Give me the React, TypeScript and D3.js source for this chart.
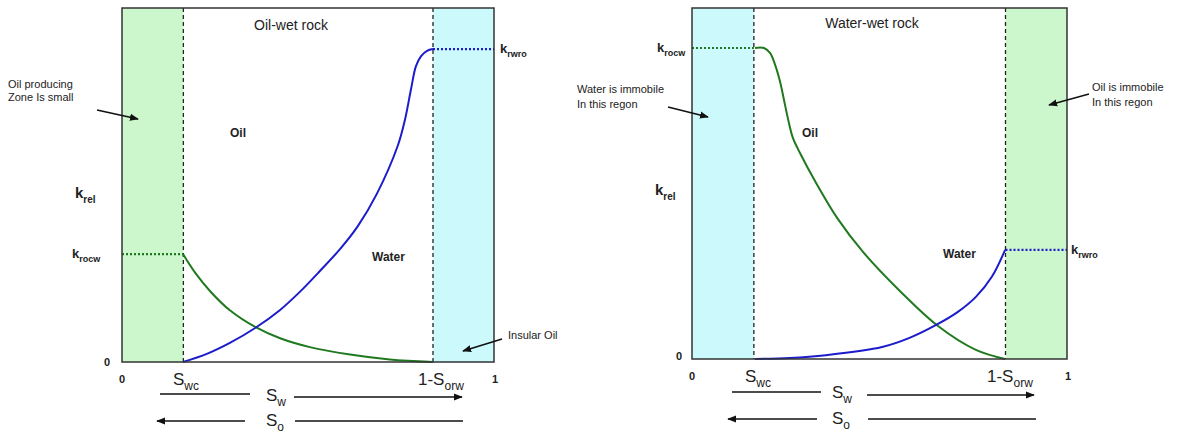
import { useEffect, useRef } from 'react'
import * as d3 from 'd3'

// saturation end points (fraction of pore volume)
const SWC = 0.165
const ONE_MINUS_SORW = 0.836

// oil-wet rock: [Sw, kr]
const OILWET_WATER: [number, number][] = [
  [0.164, 0], [0.228, 0.023], [0.29, 0.054], [0.358, 0.096], [0.425, 0.147],
  [0.478, 0.198], [0.532, 0.257], [0.586, 0.319], [0.634, 0.384], [0.685, 0.475],
  [0.742, 0.613], [0.761, 0.686], [0.777, 0.771], [0.79, 0.835], [0.804, 0.864],
  [0.82, 0.879], [0.836, 0.884],
]
const OILWET_OIL: [number, number][] = [
  [0.164, 0.305], [0.196, 0.253], [0.237, 0.2], [0.29, 0.146], [0.358, 0.099],
  [0.425, 0.067], [0.505, 0.042], [0.613, 0.021], [0.72, 0.007], [0.836, 0],
]
const OILWET_KROCW = 0.305
const OILWET_KRWRO = 0.884

// water-wet rock: [Sw, kr]
const WATERWET_WATER: [number, number][] = [
  [0.168, 0], [0.261, 0.003], [0.357, 0.011], [0.507, 0.034], [0.58, 0.06],
  [0.651, 0.097], [0.71, 0.135], [0.757, 0.177], [0.8, 0.235], [0.835, 0.311],
]
const WATERWET_OIL: [number, number][] = [
  [0.168, 0.886], [0.192, 0.886], [0.208, 0.872], [0.221, 0.84], [0.235, 0.789],
  [0.248, 0.724], [0.259, 0.67], [0.269, 0.63], [0.288, 0.587], [0.328, 0.507],
  [0.387, 0.402], [0.456, 0.305], [0.557, 0.191], [0.656, 0.094], [0.757, 0.026],
  [0.835, 0],
]
const WATERWET_KROCW = 0.886
const WATERWET_KRWRO = 0.311

const FONT = 'Arial, "Liberation Sans", sans-serif'
const BLUE = '#1c1ccc'
const GREEN = '#1f7a1f'
const FILL_GREEN = '#ccf7cc'
const FILL_CYAN = '#ccf9fb'

type Sel = d3.Selection<SVGGElement, unknown, null, undefined>

function subText(g: Sel, x: number, y: number, main: string, sub: string, size: number, bold = true, anchor = 'start') {
  const t = g.append('text').attr('x', x).attr('y', y)
    .attr('text-anchor', anchor)
    .style('font-family', FONT).style('font-weight', bold ? 'bold' : 'normal')
    .style('fill', '#222')
  t.append('tspan').style('font-size', `${size}px`).text(main)
  t.append('tspan').attr('dy', size * 0.3).style('font-size', `${Math.round(size * 0.68)}px`).text(sub)
  return t
}

function plainText(g: Sel, x: number, y: number, s: string, size: number, bold = false, anchor = 'start') {
  return g.append('text').attr('x', x).attr('y', y).attr('text-anchor', anchor)
    .style('font-family', FONT).style('font-size', `${size}px`)
    .style('font-weight', bold ? 'bold' : 'normal').style('fill', '#222').text(s)
}

function arrow(g: Sel, x1: number, y1: number, x2: number, y2: number, w = 1.5) {
  g.append('line').attr('x1', x1).attr('y1', y1).attr('x2', x2).attr('y2', y2)
    .attr('stroke', '#111').attr('stroke-width', w).attr('marker-end', 'url(#arr)')
}

function line(g: Sel, x1: number, y1: number, x2: number, y2: number, w = 1.5) {
  g.append('line').attr('x1', x1).attr('y1', y1).attr('x2', x2).attr('y2', y2)
    .attr('stroke', '#111').attr('stroke-width', w)
}

interface Panel {
  left: number; right: number; top: number; bottom: number
  leftFill: string; rightFill: string
  water: [number, number][]; oil: [number, number][]
  krocw: number; krwro: number
}

function drawPanel(svg: Sel, p: Panel) {
  const x = d3.scaleLinear().domain([0, 1]).range([p.left, p.right])
  const y = d3.scaleLinear().domain([0, 1]).range([p.bottom, p.top])
  const g = svg.append('g')

  g.append('rect').attr('x', x(0)).attr('y', y(1)).attr('width', x(SWC) - x(0))
    .attr('height', y(0) - y(1)).attr('fill', p.leftFill)
  g.append('rect').attr('x', x(ONE_MINUS_SORW)).attr('y', y(1)).attr('width', x(1) - x(ONE_MINUS_SORW))
    .attr('height', y(0) - y(1)).attr('fill', p.rightFill)

  ;[SWC, ONE_MINUS_SORW].forEach(v => {
    g.append('line').attr('x1', x(v)).attr('x2', x(v)).attr('y1', y(1)).attr('y2', y(0))
      .attr('stroke', '#222').attr('stroke-width', 1.3).attr('stroke-dasharray', '4,3')
  })

  // dotted end-point extensions
  g.append('line').attr('x1', x(0)).attr('x2', x(SWC)).attr('y1', y(p.krocw)).attr('y2', y(p.krocw))
    .attr('stroke', GREEN).attr('stroke-width', 2.2).attr('stroke-dasharray', '2,2')
  g.append('line').attr('x1', x(ONE_MINUS_SORW)).attr('x2', x(1)).attr('y1', y(p.krwro)).attr('y2', y(p.krwro))
    .attr('stroke', BLUE).attr('stroke-width', 2.2).attr('stroke-dasharray', '2,2')

  const ln = d3.line<[number, number]>().x(d => x(d[0])).y(d => y(d[1])).curve(d3.curveCatmullRom.alpha(0.5))
  g.append('path').attr('d', ln(p.oil)).attr('fill', 'none').attr('stroke', GREEN).attr('stroke-width', 2)
  g.append('path').attr('d', ln(p.water)).attr('fill', 'none').attr('stroke', BLUE).attr('stroke-width', 2)

  g.append('rect').attr('x', x(0)).attr('y', y(1)).attr('width', x(1) - x(0))
    .attr('height', y(0) - y(1)).attr('fill', 'none').attr('stroke', '#333').attr('stroke-width', 1.5)

  return { x, y, g }
}

export default function App() {
  const ref = useRef<SVGSVGElement>(null)

  useEffect(() => {
    if (!ref.current) return
    const root = d3.select(ref.current)
    root.selectAll('*').remove()
    root.append('defs').append('marker').attr('id', 'arr')
      .attr('viewBox', '0 0 10 10').attr('refX', 9).attr('refY', 5)
      .attr('markerWidth', 6).attr('markerHeight', 6).attr('orient', 'auto')
      .attr('markerUnits', 'strokeWidth')
      .append('path').attr('d', 'M0,1 L10,5 L0,9 z').attr('fill', '#111')
    const svg = root.append('g') as unknown as Sel

    // ---- oil-wet rock ----
    const L = drawPanel(svg, {
      left: 122, right: 494, top: 8, bottom: 362,
      leftFill: FILL_GREEN, rightFill: FILL_CYAN,
      water: OILWET_WATER, oil: OILWET_OIL, krocw: OILWET_KROCW, krwro: OILWET_KRWRO,
    })
    plainText(svg, 291, 30, 'Oil-wet rock', 14, false, 'middle')
    plainText(svg, 230, 137, 'Oil', 12, true)
    plainText(svg, 372, 261, 'Water', 12, true)
    subText(svg, 75, 198, 'k', 'rel', 15)
    subText(svg, 72, 258, 'k', 'rocw', 13)
    subText(svg, 500, 53, 'k', 'rwro', 13)
    plainText(svg, 107, 366, '0', 11, true, 'middle')
    plainText(svg, L.x(0), 383, '0', 11, true, 'middle')
    plainText(svg, L.x(1) + 1, 383, '1', 11, true, 'middle')
    subText(svg, 173, 385, 'S', 'wc', 17, false)
    subText(svg, 418, 385, '1-S', 'orw', 17, false)
    plainText(svg, 8, 88, 'Oil producing', 11)
    plainText(svg, 8, 101, 'Zone Is small', 11)
    arrow(svg, 97, 110, 138, 119)
    plainText(svg, 508, 339, 'Insular Oil', 11)
    arrow(svg, 502, 339, 463, 351)
    line(svg, 160, 394, 250, 394)
    subText(svg, 266, 401, 'S', 'w', 17, false)
    arrow(svg, 294, 397, 462, 397)
    arrow(svg, 245, 421, 157, 421)
    subText(svg, 266, 426, 'S', 'o', 17, false)
    line(svg, 295, 421, 463, 421)

    // ---- water-wet rock ----
    const R = drawPanel(svg, {
      left: 692, right: 1067, top: 8, bottom: 359,
      leftFill: FILL_CYAN, rightFill: FILL_GREEN,
      water: WATERWET_WATER, oil: WATERWET_OIL, krocw: WATERWET_KROCW, krwro: WATERWET_KRWRO,
    })
    plainText(svg, 872, 28, 'Water-wet rock', 14, false, 'middle')
    plainText(svg, 802, 137, 'Oil', 12, true)
    plainText(svg, 943, 258, 'Water', 12, true)
    subText(svg, 655, 195, 'k', 'rel', 15)
    subText(svg, 657, 52, 'k', 'rocw', 13)
    subText(svg, 1071, 254, 'k', 'rwro', 13)
    plainText(svg, 679, 360, '0', 11, true, 'middle')
    plainText(svg, R.x(0), 380, '0', 11, true, 'middle')
    plainText(svg, R.x(1) + 1, 380, '1', 11, true, 'middle')
    subText(svg, 745, 382, 'S', 'wc', 17, false)
    subText(svg, 987, 382, '1-S', 'orw', 17, false)
    plainText(svg, 577, 93, 'Water is immobile', 11)
    plainText(svg, 577, 108, 'In this regon', 11)
    arrow(svg, 668, 107, 708, 117)
    plainText(svg, 1092, 91, 'Oil is immobile', 11)
    plainText(svg, 1092, 106, 'In this regon', 11)
    arrow(svg, 1089, 94, 1049, 105)
    line(svg, 732, 392, 821, 392)
    subText(svg, 832, 398, 'S', 'w', 17, false)
    arrow(svg, 867, 395, 1034, 395)
    arrow(svg, 817, 419, 728, 419)
    subText(svg, 832, 424, 'S', 'o', 17, false)
    line(svg, 868, 419, 1036, 419)
  }, [])

  return (
    <svg ref={ref} width={1187} height={433}
      style={{ position: 'absolute', left: 0, top: 0, background: '#fff' }} />
  )
}
